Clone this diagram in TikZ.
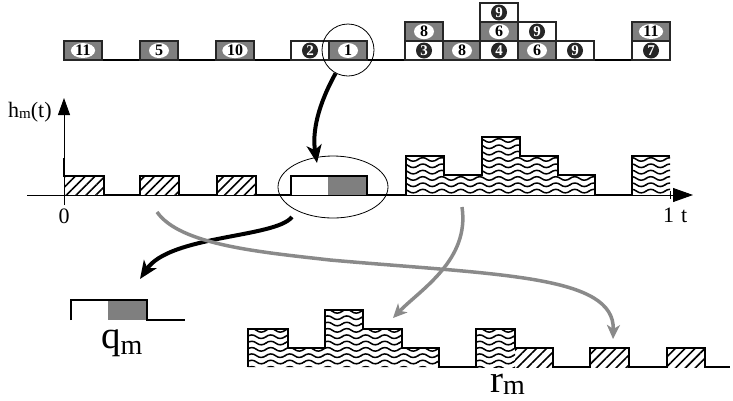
\documentclass[tikz,border=0pt]{standalone}
\usepackage{fontspec}
\setmainfont{Liberation Serif}
\usetikzlibrary{arrows.meta,patterns,patterns.meta,shapes.geometric}
\definecolor{boxgray}{HTML}{7F7F7F}
\definecolor{curvegray}{HTML}{8A8A8A}
\pgfdeclarepattern{
  name=wavy,
  type=uncolored,
  bottom left={\pgfpoint{-0.5pt}{-3.2pt}},
  top right={\pgfpoint{19.5pt}{3.2pt}},
  tile size={\pgfpoint{19pt}{6.33pt}},
  code={
    \pgfsetlinewidth{1.5pt}
    \pgfpathmoveto{\pgfpoint{-0.5pt}{-0.3pt}}
    \pgfpathcurveto{\pgfpoint{3pt}{2.4pt}}{\pgfpoint{6.5pt}{2.4pt}}{\pgfpoint{9.5pt}{0pt}}
    \pgfpathcurveto{\pgfpoint{12.5pt}{-2.4pt}}{\pgfpoint{16pt}{-2.4pt}}{\pgfpoint{19.5pt}{0.3pt}}
    \pgfusepath{stroke}
  }
}
\begin{document}
\begin{tikzpicture}[x=1pt,y=-1pt,
  gbox/.style={draw=black!85,line width=1.1pt,fill=boxgray,minimum width=38pt,minimum height=19pt,inner sep=0pt},
  wbox/.style={gbox,fill=white},
  wlab/.style={ellipse,fill=white,inner xsep=1pt,inner ysep=0pt,minimum width=20pt,minimum height=14pt,font=\fontsize{16}{16}\selectfont\bfseries},
  blab/.style={circle,fill=black!85,text=white,inner sep=0pt,minimum size=16pt,font=\fontsize{15}{15}\selectfont\bfseries},
  sig/.style={line width=2.6pt,line join=miter},
  hatch/.style={pattern={Lines[angle=45,distance=7pt,line width=1.6pt]}},
  wave/.style={pattern=wavy,pattern color=black},
  axis/.style={line width=0.9pt},
  barrow/.style={line width=4pt,-{Stealth[length=18pt,width=15pt,inset=5pt]}},
  garrow/.style={line width=3.5pt,draw=curvegray,-{Stealth[length=14pt,width=13pt,inset=4pt]}},
  axlabel/.style={font=\fontsize{22}{22}\selectfont,inner sep=0pt},
  biglabel/.style={font=\fontsize{39}{39}\selectfont,inner sep=0pt}
]
\useasboundingbox (0,0) rectangle (733,400);

% ---- top row of blocks
\coordinate (tl) at (64,60);
\coordinate (tr) at (670,60);
\draw[line width=1.3pt] (tl) -- (tr);
\foreach \xl/\yc/\st/\lab/\n [count=\i] in {
  64/50.5/gbox/wlab/11, 140/50.5/gbox/wlab/5, 216/50.5/gbox/wlab/10,
  291/50.5/wbox/blab/2, 329/50.5/gbox/wlab/1,
  405/50.5/wbox/blab/3, 405/31.5/gbox/wlab/8,
  443/50.5/gbox/wlab/8,
  480/50.5/wbox/blab/4, 480/31.5/gbox/wlab/6, 480/12.5/wbox/blab/9,
  518/50.5/gbox/wlab/6, 518/31.5/wbox/blab/9,
  556/50.5/wbox/blab/9,
  632/50.5/wbox/blab/7, 632/31.5/gbox/wlab/11}
{
  \node[\st] (box\i) at (\xl+19,\yc) {};
  \node[\lab] (num\i) at (box\i.center) {\n};
}
\node[draw,circle,line width=0.8pt,minimum size=52pt,inner sep=0pt] (sel) at (348,50) {};

% ---- middle signal h_m(t)
\fill[hatch] (64,176) rectangle (104,195);
\fill[hatch] (140,176) rectangle (179,195);
\fill[hatch] (217,176) rectangle (256,195);
\fill[boxgray] (328,176) rectangle (367,195);
\fill[wave] (406,195) -- (406,156) -- (444,156) -- (444,175) -- (482,175) -- (482,137)
  -- (520,137) -- (520,156) -- (558,156) -- (558,175) -- (595,175) -- (595,195) -- cycle;
\fill[wave] (632,156) rectangle (670,195);

\coordinate (xs) at (27,195);
\coordinate (xe) at (693,195);
\coordinate (ys) at (64,205);
\coordinate (ye) at (64,98);
\draw[axis,-{Triangle[length=20pt,width=14pt]}] (xs) -- (xe);
\draw[axis,-{Triangle[length=17pt,width=12pt]}] (ys) -- (ye);
\draw[axis] (670,191) -- (670,199);

\draw[sig] (64,158) -- (64,176) -- (104,176) -- (104,195) -- (140,195) -- (140,176) -- (179,176)
  -- (179,195) -- (217,195) -- (217,176) -- (256,176) -- (256,195) -- (291,195) -- (291,176)
  -- (367,176) -- (367,195) -- (406,195) -- (406,156) -- (444,156) -- (444,175) -- (482,175)
  -- (482,137) -- (520,137) -- (520,156) -- (558,156) -- (558,175) -- (595,175) -- (595,195)
  -- (632,195) -- (632,156) -- (670,156);

\node[draw,ellipse,line width=0.8pt,minimum width=110pt,minimum height=62pt,inner sep=0pt] (zoomsel) at (333,187) {};

\node[axlabel,anchor=base west] (hlab) at (8,117) {h\raisebox{-1pt}{\fontsize{15}{15}\selectfont m}(t)};
\node[axlabel,anchor=base] (zero) at (64,223) {0};
\node[axlabel,anchor=base west] (one) at (663,222) {1\hspace{7pt}t};

% ---- q_m
\fill[boxgray] (108,300) rectangle (147,320);
\draw[sig] (71,320) -- (71,300) -- (147,300) -- (147,320) -- (185,320);
\node[biglabel,anchor=base west] (qm) at (101,348) {q\raisebox{-6pt}{\fontsize{28}{28}\selectfont m}};

% ---- r_m
\fill[wave] (248,367) -- (248,329) -- (288,329) -- (288,348) -- (325,348) -- (325,310) -- (363,310)
  -- (363,329) -- (402,329) -- (402,348) -- (439,348) -- (439,367) -- cycle;
\fill[wave] (476,329) rectangle (515,367);
\fill[hatch] (515,348) rectangle (553,367);
\fill[hatch] (590,348) rectangle (629,367);
\fill[hatch] (667,348) rectangle (705,367);
\draw[sig] (248,367) -- (248,329) -- (288,329) -- (288,348) -- (325,348) -- (325,310) -- (363,310)
  -- (363,329) -- (402,329) -- (402,348) -- (439,348) -- (439,367) -- (476,367) -- (476,329)
  -- (515,329) -- (515,348) -- (553,348) -- (553,367) -- (590,367) -- (590,348) -- (629,348)
  -- (629,367) -- (667,367) -- (667,348) -- (705,348) -- (705,367) -- (730,367);
\node[biglabel,anchor=base west] (rm) at (490,392) {r\raisebox{-2pt}{\fontsize{28}{28}\selectfont m}};

% ---- arrows
\coordinate (dtip) at (317,163);
\draw[barrow] (sel.-118) .. controls (318,105) and (312,132) .. (dtip);

\coordinate (cstart) at (292,217);
\coordinate (ctip) at (140,279);
\draw[barrow] (cstart) .. controls (275,238) and (170,235) .. (ctip);

\coordinate (astart) at (157,212);
\coordinate (amid) at (330,260);
\coordinate (atip) at (613,339);
\draw[garrow] (astart) .. controls (180,245) and (260,252) .. (amid) .. controls (500,275) and (615,275) .. (atip);

\coordinate (bstart) at (462,207);
\coordinate (btip) at (393,318);
\draw[garrow] (bstart) .. controls (470,260) and (420,290) .. (btip);
\end{tikzpicture}
\end{document}
